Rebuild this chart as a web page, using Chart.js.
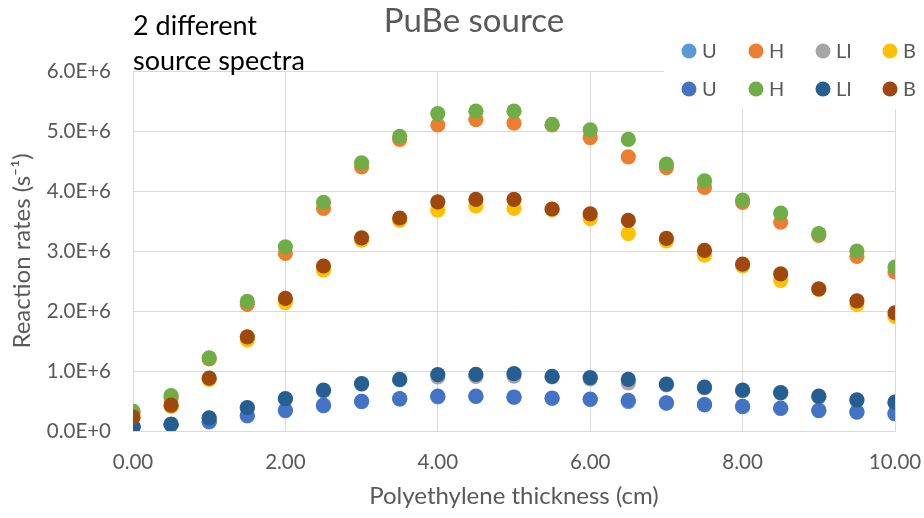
<!DOCTYPE html>
<html>
<head>
<meta charset="utf-8">
<title>PuBe source</title>
<script src="https://cdn.jsdelivr.net/npm/chart.js@4.4.1/dist/chart.umd.min.js"></script>
<style>
  html, body { margin: 0; padding: 0; background: #ffffff; }
  #wrap { width: 924px; height: 518px; }
</style>
</head>
<body>
<div id="wrap"><canvas id="chart" width="924" height="518"></canvas></div>
<script>
// Polyethylene moderator thickness (cm)
const thickness = [0, 0.5, 1, 1.5, 2, 2.5, 3, 3.5, 4, 4.5, 5, 5.5, 6, 6.5, 7, 7.5, 8, 8.5, 9, 9.5, 10];

// Reaction rates in units of 1e6 s^-1, first source spectrum
const uA  = [0.07, 0.11, 0.15, 0.25, 0.34, 0.42, 0.49, 0.53, 0.57, 0.575, 0.56, 0.545, 0.525, 0.49, 0.465, 0.435, 0.405, 0.375, 0.34, 0.315, 0.285];
const hA  = [0.30, 0.55, 1.20, 2.11, 2.96, 3.71, 4.40, 4.86, 5.10, 5.19, 5.13, 5.10, 4.89, 4.57, 4.39, 4.06, 3.81, 3.48, 3.26, 2.91, 2.65];
const liA = [0.07, 0.11, 0.21, 0.38, 0.53, 0.67, 0.78, 0.85, 0.90, 0.91, 0.915, 0.90, 0.87, 0.80, 0.77, 0.72, 0.67, 0.63, 0.57, 0.51, 0.47];
const bA  = [0.21, 0.41, 0.86, 1.52, 2.14, 2.68, 3.18, 3.51, 3.68, 3.75, 3.71, 3.69, 3.54, 3.29, 3.17, 2.93, 2.75, 2.51, 2.36, 2.11, 1.91];

// Reaction rates in units of 1e6 s^-1, second source spectrum
const uB  = [0.07, 0.11, 0.16, 0.26, 0.345, 0.43, 0.495, 0.54, 0.58, 0.58, 0.567, 0.55, 0.53, 0.51, 0.47, 0.44, 0.41, 0.38, 0.345, 0.32, 0.29];
const hB  = [0.33, 0.59, 1.22, 2.16, 3.07, 3.81, 4.47, 4.91, 5.29, 5.33, 5.33, 5.11, 5.02, 4.86, 4.45, 4.17, 3.85, 3.63, 3.29, 3.00, 2.73];
const liB = [0.07, 0.11, 0.22, 0.39, 0.54, 0.68, 0.79, 0.86, 0.94, 0.945, 0.955, 0.91, 0.89, 0.86, 0.78, 0.73, 0.68, 0.64, 0.58, 0.52, 0.48];
const bB  = [0.23, 0.43, 0.88, 1.57, 2.21, 2.75, 3.22, 3.55, 3.82, 3.86, 3.86, 3.70, 3.62, 3.51, 3.21, 3.01, 2.78, 2.62, 2.37, 2.17, 1.97];

const seriesNames = ['U', 'H', 'LI', 'B', 'U', 'H', 'LI', 'B'];
const seriesValues = [uA, hA, liA, bA, uB, hB, liB, bB];
const seriesColors = ['#5B9BD5', '#ED7D31', '#A5A5A5', '#FFC000', '#4472C4', '#70AD47', '#255E91', '#9E480E'];

const yTicks = [0, 1, 2, 3, 4, 5, 6];       // x 1e6
const xTicks = [0, 2, 4, 6, 8, 10];

const UNIT = 1e6;
const FONT = 'Lato, "Open Sans", sans-serif';
const GREY_TEXT = '#595959';

const datasets = seriesValues.map((vals, i) => ({
  label: seriesNames[i],
  data: thickness.map((x, k) => ({ x: x, y: vals[k] * UNIT })),
  backgroundColor: seriesColors[i],
  borderColor: seriesColors[i],
  borderWidth: 0,
  pointRadius: 7.6,
  pointHoverRadius: 7.6,
  showLine: false,
  order: seriesValues.length - i   // later series are painted on top
}));

// Title, text box and two-row legend painted onto the canvas
const decorations = {
  id: 'decorations',
  beforeDatasetsDraw(chart) {
    const ctx = chart.ctx;
    ctx.save();
    // legend panel sits over the top-right of the plot
    ctx.fillStyle = '#ffffff';
    ctx.fillRect(664, 28, 260, 81);
    const colX = [689, 756, 823, 890];
    const rowY = [51, 89];
    ctx.font = '20px ' + FONT;
    ctx.textBaseline = 'middle';
    ctx.textAlign = 'left';
    chart.data.datasets.forEach((ds, i) => {
      const cx = colX[i % 4];
      const cy = rowY[Math.floor(i / 4)];
      ctx.beginPath();
      ctx.arc(cx, cy, 7.5, 0, Math.PI * 2);
      ctx.fillStyle = ds.backgroundColor;
      ctx.fill();
      ctx.fillStyle = GREY_TEXT;
      ctx.fillText(ds.label, cx + 13, cy + 1);
    });
    ctx.restore();
  },
  afterDraw(chart) {
    const ctx = chart.ctx;
    ctx.save();
    ctx.fillStyle = GREY_TEXT;
    ctx.font = '33px ' + FONT;
    ctx.textAlign = 'center';
    ctx.textBaseline = 'middle';
    ctx.fillText('PuBe source', 474, 21);

    ctx.fillStyle = '#000000';
    ctx.font = '27px ' + FONT;
    ctx.textAlign = 'left';
    ctx.textBaseline = 'alphabetic';
    ctx.fillText('2 different', 133, 35);
    ctx.fillText('source spectra', 133, 70);
    ctx.restore();
  }
};

new Chart(document.getElementById('chart'), {
  type: 'scatter',
  data: { datasets: datasets },
  plugins: [decorations],
  options: {
    responsive: false,
    animation: false,
    devicePixelRatio: 1,
    layout: { padding: { left: 0, top: 71, right: 29, bottom: 0 } },
    plugins: {
      legend: { display: false },
      title: { display: false },
      tooltip: { enabled: false }
    },
    scales: {
      x: {
        type: 'linear',
        min: 0,
        max: 10,
        afterBuildTicks(scale) { scale.ticks = xTicks.map(v => ({ value: v })); },
        afterFit(scale) {
          scale.height = 87;
          scale.paddingLeft = 0;
          scale.paddingRight = 0;
        },
        grid: { color: '#D9D9D9', lineWidth: 1, drawTicks: false },
        border: { color: '#D9D9D9', width: 1 },
        ticks: {
          padding: 19,
          color: GREY_TEXT,
          font: { family: FONT, size: 20.5 },
          maxRotation: 0,
          callback: v => Number(v).toFixed(2)
        },
        title: {
          display: true,
          text: 'Polyethylene thickness (cm)',
          color: GREY_TEXT,
          font: { family: FONT, size: 24 },
          padding: { top: 0, bottom: 7 }
        }
      },
      y: {
        type: 'linear',
        min: 0,
        max: 6 * UNIT,
        afterBuildTicks(scale) { scale.ticks = yTicks.map(v => ({ value: v * UNIT })); },
        afterFit(scale) {
          scale.width = 133;
          scale.paddingTop = 0;
          scale.paddingBottom = 0;
        },
        grid: { color: '#D9D9D9', lineWidth: 1, drawTicks: false },
        border: { color: '#D9D9D9', width: 1 },
        ticks: {
          padding: 22,
          color: GREY_TEXT,
          font: { family: FONT, size: 20.5 },
          callback: v => Number(v).toExponential(1).toUpperCase()
        },
        title: {
          display: true,
          text: 'Reaction rates (s\u207B\u00B9)',
          color: GREY_TEXT,
          font: { family: FONT, size: 24 },
          padding: { top: 8, bottom: 0 }
        }
      }
    }
  }
});
</script>
</body>
</html>
